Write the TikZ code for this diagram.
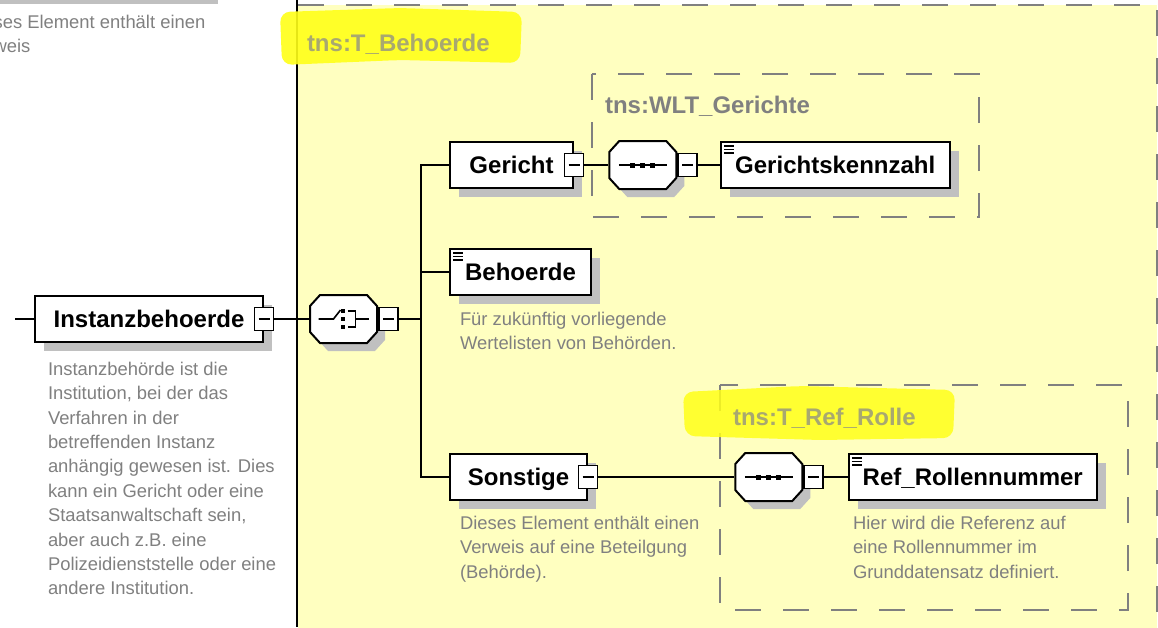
\documentclass[tikz,border=0pt]{standalone}
\usepackage{fontspec}
\setmainfont{Liberation Sans}
\usetikzlibrary{positioning,shadows}
\definecolor{typebg}{RGB}{255,255,192}
\definecolor{shadowgray}{RGB}{192,192,192}
\definecolor{dashgray}{RGB}{128,128,128}
\definecolor{descgray}{RGB}{128,128,128}
\definecolor{marker}{RGB}{255,255,24}
\definecolor{markertext}{RGB}{168,168,112}

\begin{document}
\begin{tikzpicture}[
x=1pt,y=-1pt,
line width=2pt,
elem/.style={draw,fill=white,minimum height=46pt,inner sep=0pt,
  text height=18pt,text depth=2pt,
  font=\bfseries\fontsize{24}{28}\selectfont,
  drop shadow={shadow xshift=9pt,shadow yshift=-9pt,fill=shadowgray,opacity=1}},
simple/.style={elem,path picture={
  \foreach \d in {4,7.5,11}
    \draw[line width=1.3pt] ([xshift=3pt,yshift=-\d*1pt]path picture bounding box.north west) -- ++(10,0);}},
comp/.style={minimum width=67pt,minimum height=48pt,inner sep=0pt},
collapse/.style={draw,line width=1.5pt,fill=white,minimum width=19pt,minimum height=23pt,inner sep=0pt,
  path picture={\draw[line width=1.5pt] ([xshift=4pt]path picture bounding box.west) -- ([xshift=-4pt]path picture bounding box.east);}},
desc/.style={anchor=north west,align=left,inner sep=0pt,text=descgray,font=\fontsize{18.4}{24.4}\selectfont},
typebox/.style={draw=dashgray,dash pattern=on 26pt off 22pt},
typename/.style={anchor=base west,inner sep=0pt,font=\bfseries\fontsize{24}{28}\selectfont},
compframe/.pic={
  \draw[fill=white,preaction={fill=shadowgray,transform canvas={xshift=8pt,yshift=-8pt}}]
    (-23.5,-24) -- (23.5,-24) -- (33.5,-13) -- (33.5,13) -- (23.5,24)
    -- (-23.5,24) -- (-33.5,13) -- (-33.5,-13) -- cycle;
},
seqsym/.pic={
  \pic {compframe};
  \draw[line width=1.6pt] (-24,0) -- (24,0);
  \foreach \d in {-10,0,10}
    \fill (\d-2.5,-2.5) rectangle (\d+2.5,2.5);
},
choicesym/.pic={
  \pic {compframe};
  \draw[line width=1.6pt] (-25,0) -- (-10,0) -- (-3,-9);
  \foreach \d in {-8,0,8}
    \fill (-3,\d-2) rectangle (1,\d+2);
  \draw[line width=1.6pt] (4,-8) -- (12,-8) -- (12,8) -- (4,8) (12,0) -- (25,0);
}]
\useasboundingbox (0,0) rectangle (1158,627);
\clip (0,0) rectangle (1158,627);
\fill[white] (0,0) rectangle (1158,627);

% complex type tns:T_Behoerde
\fill[typebg] (298,5) rectangle (1157,640);
\draw[typebox] (298,5) -- (1157,5) -- (1157,640);
\draw[line width=2.5pt] (297,0) -- (297,627);

% element above, cut off
\fill[shadowgray] (-10,-10) rectangle (218,4);
\node[desc] (topdesc) at (-35,14) {Dieses Element enthält einen\\Verweis};

\fill[marker,opacity=.9,rounded corners=10pt] (280,12) -- (400,8) -- (522,12) -- (520,63) -- (400,60) -- (282,65) -- cycle;
\node[typename,text=markertext] (behtype) at (306,51) {tns:T\_Behoerde};

% nested types
\draw[typebox] (592,74) rectangle (979,217);
\node[typename,text=dashgray] (wlttype) at (604,113) {tns:WLT\_Gerichte};
\draw[typebox] (720,385) rectangle (1128,610);
\fill[marker,opacity=.85,rounded corners=10pt] (683,392) -- (800,386) -- (955,390) -- (953,438) -- (820,440) -- (685,436) -- cycle;
\node[typename,text=markertext] (rolletype) at (732,425) {tns:T\_Ref\_Rolle};

% root element
\coordinate (entry) at (15,319);
\node[elem,minimum width=228pt] (instanz) at (149,319) {Instanzbehoerde};
\node[collapse] (instanzcol) at (instanz.east) {};
\node[desc] (instanzdesc) at (47,361) {Instanzbehörde ist die\\Institution, bei der das\\Verfahren in der\\betreffenden Instanz\\anhängig gewesen ist. Dies\\kann ein Gericht oder eine\\Staatsanwaltschaft sein,\\aber auch z.B. eine\\Polizeidienststelle oder eine\\andere Institution.};

\node[comp] (choice) at (343.5,319) {};
\pic at (choice) {choicesym};
\node[collapse,anchor=west] (choicecol) at (choice.east) {};
\coordinate (fork) at (421,319);

% choice branches
\node[elem,minimum width=123pt,anchor=west] (gericht) at (449,165) {Gericht};
\node[collapse] (gerichtcol) at (gericht.east) {};
\node[comp] (seqa) [right=24pt of gerichtcol] {};
\pic at (seqa) {seqsym};
\node[collapse,anchor=west] (seqacol) at (seqa.east) {};
\node[simple,minimum width=229pt] (kennzahl) [right=22pt of seqacol] {Gerichtskennzahl};

\node[simple,minimum width=141pt,anchor=west] (behoerde) at (449,272) {Behoerde};
\node[desc] (behoerdedesc) at (459,311) {Für zukünftig vorliegende\\Wertelisten von Behörden.};

\node[elem,minimum width=137pt,anchor=west] (sonstige) at (449,477) {Sonstige};
\node[collapse] (sonstigecol) at (sonstige.east) {};
\node[desc] (sonstigedesc) at (459,515) {Dieses Element enthält einen\\Verweis auf eine Beteilgung\\(Behörde).};
\node[comp] (seqb) [right=136pt of sonstigecol] {};
\pic at (seqb) {seqsym};
\node[collapse,anchor=west] (seqbcol) at (seqb.east) {};
\node[simple,minimum width=248pt] (rolle) [right=24pt of seqbcol] {Ref\_Rollennummer};
\node[desc] (rolledesc) at (852,515) {Hier wird die Referenz auf\\eine Rollennummer im\\Grunddatensatz definiert.};

% connectors
\draw (entry) -- (instanz);
\draw (instanzcol) -- (choice);
\draw (choicecol) -- (fork);
\draw (gericht.west) -| (fork) |- (sonstige.west);
\draw (behoerde.west -| fork) -- (behoerde.west);
\draw (gerichtcol) -- (seqa);
\draw (seqacol) -- (kennzahl);
\draw (sonstigecol) -- (seqb);
\draw (seqbcol) -- (rolle);
\end{tikzpicture}
\end{document}
